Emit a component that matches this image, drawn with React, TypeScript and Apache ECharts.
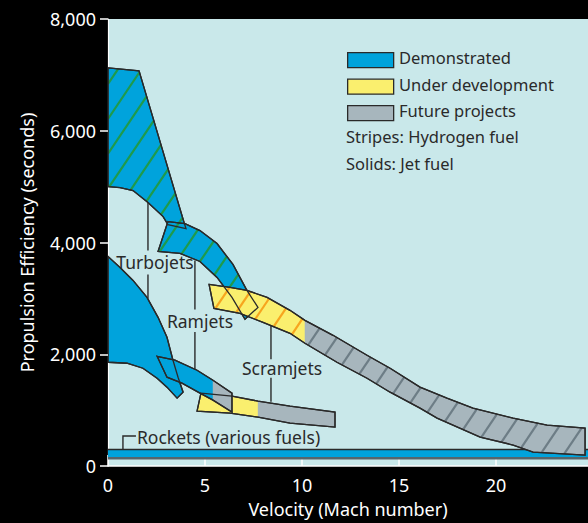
import React, { useEffect, useRef } from 'react';
import * as echarts from 'echarts';

// ---------- axes ----------
const xTicks = [0, 5, 10, 15, 20];
const xMax = 24.74;
const yTicks = [0, 2000, 4000, 6000, 8000];

// ---------- engine envelopes [Mach, seconds] ----------
const turbojetHydrogen = [[0, 7125], [1.6, 7071], [3.92, 4357], [4.02, 4250], [3.09, 4321], [2.84, 4464], [2.06, 4714], [1.29, 4929], [0.62, 4982], [0, 5000]];
const ramjetHydrogen = [[3.09, 4375], [3.97, 4339], [4.74, 4214], [5.62, 3982], [6.44, 3607], [7.16, 3143], [7.73, 2839], [7.06, 2625], [6.39, 3018], [5.62, 3375], [4.74, 3661], [3.71, 3804], [2.58, 3839]];
const scramjetHydrogen = [[5.21, 3250], [6.29, 3196], [7.16, 3143], [8.2, 3018], [9.38, 2786], [10.15, 2607], [11.6, 2339], [13.35, 1982], [14.54, 1750], [16.08, 1411], [17.47, 1214], [18.81, 1036], [20.88, 857], [22.63, 732], [24.59, 679],
  [24.59, 196], [21.91, 250], [20.88, 375], [19.18, 518], [16.96, 857], [16.08, 1036], [14.54, 1321], [13.35, 1571], [11.8, 1857], [10.15, 2196], [9.38, 2375], [7.99, 2571], [6.8, 2732], [5.46, 2821]];
const turbojetJet = [[0, 3750], [0.62, 3554], [1.29, 3321], [2.01, 3018], [2.58, 2661], [3.04, 2304], [3.35, 1893], [3.61, 1589], [3.87, 1321], [3.56, 1214], [3.04, 1411], [2.53, 1571], [1.8, 1750], [0.98, 1839], [0, 1857]];
const ramjetJet = [[2.53, 1964], [3.45, 1893], [4.59, 1714], [5.41, 1536], [6.39, 1304], [6.39, 964], [5.41, 1179], [4.74, 1304], [3.81, 1482], [3.04, 1589]];
const scramjetJet = [[4.79, 1304], [6.39, 1250], [7.73, 1161], [9.38, 1071], [11.7, 964], [11.7, 696], [9.38, 768], [7.73, 875], [6.29, 946], [4.59, 982]];
const rocketBand = [[0, 295], [xMax, 295], [xMax, 140], [0, 140]];

// Mach numbers where the development status changes along a band
const scramjetHydrogenFutureFrom = 10.15;
const ramjetJetFutureFrom = 5.41;
const scramjetJetFutureFrom = 7.73;

// ---------- annotations ----------
const engineLabels = [
  { text: 'Turbojets', at: [2.42, 3643] },
  { text: 'Ramjets', at: [4.74, 2589] },
  { text: 'Scramjets', at: [8.97, 1750] },
];
const leaderLines = [
  [[2.06, 4720], [2.06, 3857]], [[2.06, 3429], [2.06, 3000]],
  [[4.48, 3680], [4.48, 2800]], [[4.48, 2400], [4.48, 1700]],
  [[8.4, 2560], [8.4, 1910]], [[8.4, 1580], [8.4, 1150]],
];
const rocketBracket = [[0.77, 295], [0.77, 536], [1.44, 536]];
const rocketLabel = { text: 'Rockets (various fuels)', at: [1.49, 518] };

// ---------- styles ----------
const BLUE = '#00a3dc';
const YELLOW = '#faef6e';
const GRAY = '#a7b6bd';
const GREEN = '#1f9a4b';
const ORANGE = '#f7a51e';
const DGRAY = '#6d7d86';
const INK = '#2a2a2a';
const FONT = '"Noto Sans", sans-serif';

type Cfg = { pts: number[][]; split?: number; fills: string[]; stripes?: string[] };
const shapes: Cfg[] = [
  { pts: scramjetJet, split: scramjetJetFutureFrom, fills: [YELLOW, GRAY] },
  { pts: turbojetJet, fills: [BLUE] },
  { pts: ramjetJet, split: ramjetJetFutureFrom, fills: [BLUE, GRAY] },
  { pts: turbojetHydrogen, fills: [BLUE], stripes: [GREEN] },
  { pts: ramjetHydrogen, fills: [BLUE], stripes: [GREEN] },
  { pts: scramjetHydrogen, split: scramjetHydrogenFutureFrom, fills: [YELLOW, GRAY], stripes: [ORANGE, DGRAY] },
];

function clipX(pts: number[][], xs: number, keepLeft: boolean) {
  const out: number[][] = [];
  for (let i = 0; i < pts.length; i++) {
    const a = pts[i], b = pts[(i + 1) % pts.length];
    const ina = keepLeft ? a[0] <= xs : a[0] >= xs;
    const inb = keepLeft ? b[0] <= xs : b[0] >= xs;
    if (ina) out.push(a);
    if (ina !== inb) {
      const t = (xs - a[0]) / (b[0] - a[0]);
      out.push([xs, a[1] + t * (b[1] - a[1])]);
    }
  }
  return out;
}

function stripeSegs(pts: number[][], spacing: number, angleDeg: number) {
  const th = (angleDeg * Math.PI) / 180;
  const d = [Math.cos(th), -Math.sin(th)];
  const n = [Math.sin(th), Math.cos(th)];
  const proj = pts.map((p) => p[0] * n[0] + p[1] * n[1]);
  const smin = Math.min(...proj), smax = Math.max(...proj);
  const segs: number[][] = [];
  for (let s = Math.ceil(smin / spacing) * spacing + 0.01; s <= smax; s += spacing) {
    const hits: number[][] = [];
    for (let i = 0; i < pts.length; i++) {
      const j = (i + 1) % pts.length;
      const sa = proj[i], sb = proj[j];
      if ((sa <= s && sb > s) || (sb <= s && sa > s)) {
        const t = (s - sa) / (sb - sa);
        const x = pts[i][0] + t * (pts[j][0] - pts[i][0]);
        const y = pts[i][1] + t * (pts[j][1] - pts[i][1]);
        hits.push([x, y, x * d[0] + y * d[1]]);
      }
    }
    hits.sort((a, b) => a[2] - b[2]);
    for (let k = 0; k + 1 < hits.length; k += 2) segs.push([hits[k][0], hits[k][1], hits[k + 1][0], hits[k + 1][1]]);
  }
  return segs;
}

export default function App() {
  const ref = useRef<HTMLDivElement>(null);
  useEffect(() => {
    if (!ref.current) return;
    const chart = echarts.init(ref.current, null, { renderer: 'svg' });

    const renderItem = (params: any, api: any) => {
      const c = (p: number[]) => api.coord(p);
      const children: any[] = [];
      // leader lines
      leaderLines.forEach((ln) => {
        const a = c(ln[0]), b = c(ln[1]);
        children.push({ type: 'line', shape: { x1: a[0], y1: a[1], x2: b[0], y2: b[1] }, style: { stroke: INK, lineWidth: 1.4 } });
      });
      // rocket band
      const rp = rocketBand.map(c);
      children.push({ type: 'polygon', shape: { points: rp }, style: { fill: BLUE } });
      children.push({ type: 'polyline', shape: { points: [rp[0], rp[1]] }, style: { stroke: INK, lineWidth: 1.3, fill: null } });
      children.push({ type: 'polyline', shape: { points: [rp[3], rp[2]] }, style: { stroke: '#56666c', lineWidth: 2.4, fill: null } });
      const br = rocketBracket.map(c);
      children.push({ type: 'polyline', shape: { points: br }, style: { stroke: INK, lineWidth: 1.4, fill: null } });

      // filled envelopes
      shapes.forEach((sh) => {
        const px = sh.pts.map(c);
        let parts: number[][][] = [px];
        if (sh.split !== undefined) {
          const xs = c([sh.split, 0])[0];
          parts = [clipX(px, xs, true), clipX(px, xs, false)];
        }
        parts.forEach((part, i) => {
          if (part.length < 3) return;
          children.push({ type: 'polygon', shape: { points: part }, style: { fill: sh.fills[i], stroke: sh.fills[i], lineWidth: 0.3 } });
          if (sh.stripes) {
            stripeSegs(part, 19.5, 56).forEach((s) => {
              children.push({ type: 'line', shape: { x1: s[0], y1: s[1], x2: s[2], y2: s[3] }, style: { stroke: sh.stripes![i], lineWidth: 2.2 } });
            });
          }
        });
        children.push({ type: 'polygon', shape: { points: px }, style: { fill: null, stroke: INK, lineWidth: 1.3 } });
      });
      // outlines of overlapping ends on top
      shapes.forEach((sh) => {
        children.push({ type: 'polygon', shape: { points: sh.pts.map(c) }, style: { fill: null, stroke: INK, lineWidth: 1.3 } });
      });
      // labels
      engineLabels.forEach((lb) => {
        const p = c(lb.at);
        children.push({ type: 'text', x: p[0], y: p[1], style: { text: lb.text, fill: INK, fontSize: 17.5, fontFamily: FONT, align: 'center', verticalAlign: 'middle' } });
      });
      const rl = c(rocketLabel.at);
      children.push({ type: 'text', x: rl[0], y: rl[1], style: { text: rocketLabel.text, fill: INK, fontSize: 17.5, fontFamily: FONT, align: 'left', verticalAlign: 'middle' } });
      return { type: 'group', children };
    };

    const legendItems = [
      { label: 'Demonstrated', color: BLUE },
      { label: 'Under development', color: YELLOW },
      { label: 'Future projects', color: GRAY },
    ];
    const graphic: any[] = [];
    legendItems.forEach((it, i) => {
      const y = 52 + i * 26.5;
      graphic.push({ type: 'rect', left: 347, top: y, shape: { x: 0, y: 0, width: 46, height: 15 }, style: { fill: it.color, stroke: INK, lineWidth: 1.3 } });
      graphic.push({ type: 'text', left: 399, top: y - 3, style: { text: it.label, fill: INK, fontSize: 16.5, fontFamily: FONT } });
    });
    graphic.push({ type: 'text', left: 346, top: 128, style: { text: 'Stripes: Hydrogen fuel', fill: INK, fontSize: 16.5, fontFamily: FONT } });
    graphic.push({ type: 'text', left: 346, top: 155, style: { text: 'Solids: Jet fuel', fill: INK, fontSize: 16.5, fontFamily: FONT } });

    chart.setOption({
      animation: false,
      backgroundColor: '#000',
      grid: { left: 108, right: 0, top: 19, bottom: 57, show: true, backgroundColor: '#c9e8ea', borderWidth: 0 },
      xAxis: {
        type: 'value', min: 0, max: xMax, interval: 5,
        axisLine: { show: true, lineStyle: { color: '#fff', width: 1.5 } },
        axisTick: { show: true, inside: true, length: 11, lineStyle: { color: '#fff', width: 1.5 } },
        axisLabel: { color: '#fff', fontSize: 18, fontFamily: FONT, margin: 10, formatter: (v: number) => (xTicks.includes(v) ? String(v) : ''), showMaxLabel: false },
        splitLine: { show: false },
        name: 'Velocity (Mach number)', nameLocation: 'middle', nameGap: 34,
        nameTextStyle: { color: '#fff', fontSize: 18, fontFamily: FONT },
      },
      yAxis: {
        type: 'value', min: 0, max: 8000, interval: 2000,
        axisLine: { show: true, lineStyle: { color: '#fff', width: 1.2 } },
        axisTick: { show: true, length: 8, lineStyle: { color: '#fff', width: 1.5 } },
        axisLabel: { color: '#fff', fontSize: 18, fontFamily: FONT, margin: 12, formatter: (v: number) => (yTicks.includes(v) ? v.toLocaleString('en-US') : '') },
        splitLine: { show: false },
        name: 'Propulsion Efficiency (seconds)', nameLocation: 'middle', nameGap: 72,
        nameTextStyle: { color: '#fff', fontSize: 18, fontFamily: FONT },
      },
      graphic,
      series: [
        { type: 'custom', coordinateSystem: 'cartesian2d', data: [[0, 0]], renderItem, silent: true, clip: true },
      ],
    });
    return () => chart.dispose();
  }, []);
  return <div ref={ref} style={{ position: 'fixed', left: 0, top: 0, width: 588, height: 523 }} />;
}
